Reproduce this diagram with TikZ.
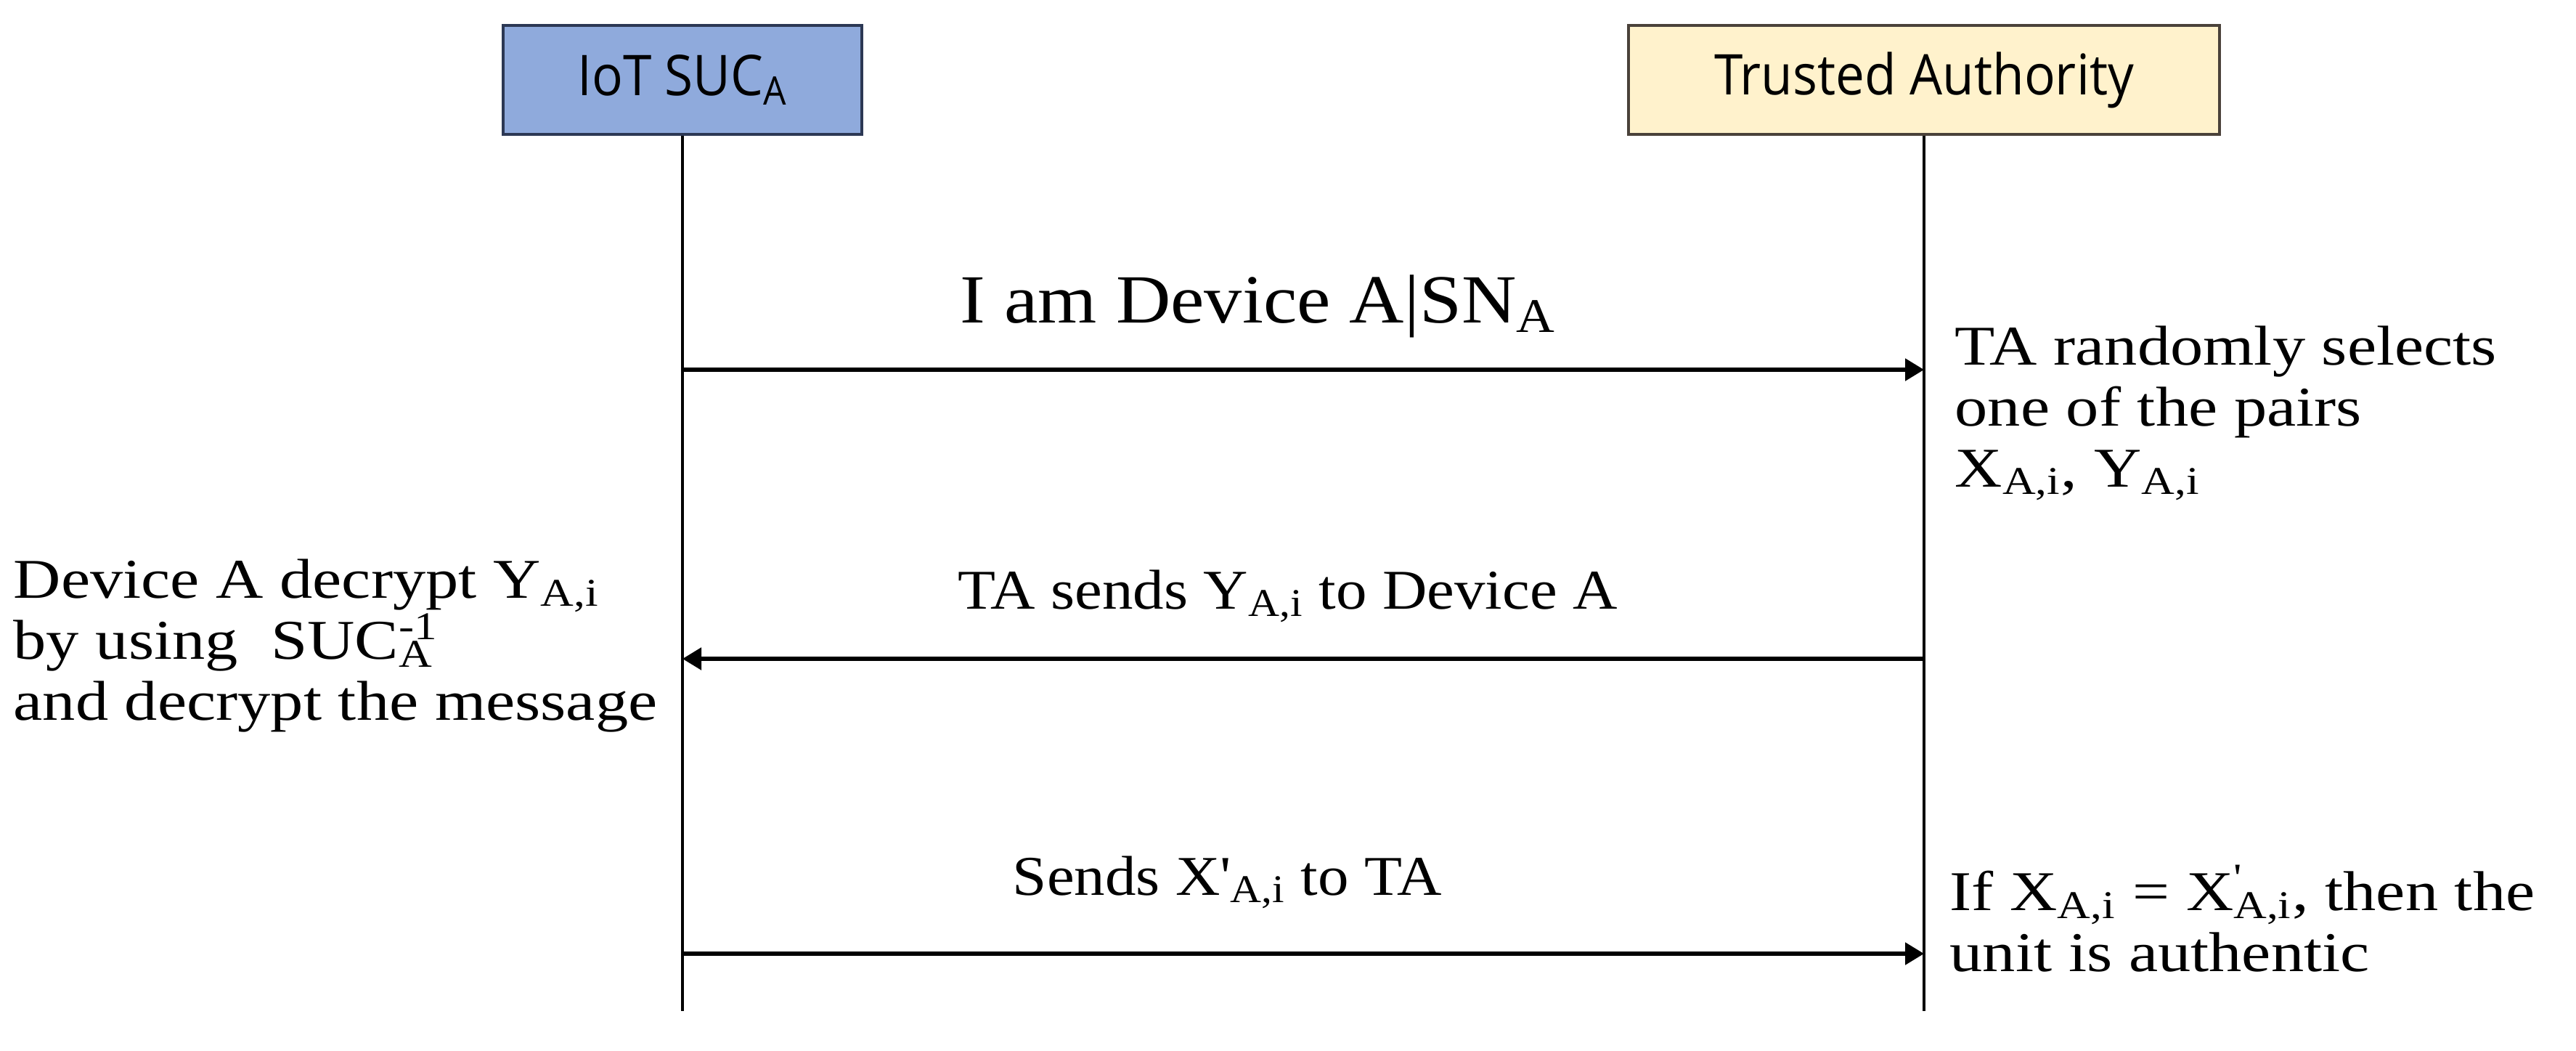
\documentclass[tikz,border=0pt]{standalone}
\usepackage{fontspec}
\setmainfont{Liberation Serif}[FakeStretch=1.1]
\newfontfamily\notefont{Liberation Serif}[FakeStretch=1.17]
\newfontfamily\boxfont{Open Sans}[FakeStretch=0.92]
\usetikzlibrary{arrows.meta, positioning}
\definecolor{devblue}{RGB}{143, 170, 220}
\definecolor{devedge}{RGB}{44, 56, 84}
\definecolor{tacream}{RGB}{255, 242, 204}
\definecolor{taedge}{RGB}{74, 66, 58}
\newcommand{\supsub}[2]{\rlap{\textsuperscript{#1}}\textsubscript{#2}}

\begin{document}
\begin{tikzpicture}[
  party/.style={draw, line width=1pt, minimum height=1.5cm, inner sep=0pt, font=\boxfont\fontsize{22}{26}\selectfont},
  lifeline/.style={line width=1.2pt},
  msg/.style={line width=1.5pt, -{Triangle[length=0.26cm, width=0.3cm]}},
  msgtext/.style={anchor=base west, inner sep=0pt, font=\fontsize{22}{29}\selectfont},
  note/.style={anchor=base west, inner sep=0pt, align=left, font=\notefont\fontsize{22}{23.8}\selectfont}
]
  \useasboundingbox (0,0) rectangle (35.48,-14.46);

  % Participants
  \node[party, fill=devblue, draw=devedge, minimum width=4.94cm] (iot) at (9.40,-1.10) {IoT SUC\textsubscript{A}};
  \node[party, fill=tacream, draw=taedge, minimum width=8.14cm] (ta) at (26.50,-1.10) {Trusted Authority};

  % Lifelines
  \coordinate (bottom) at (0,-13.92);
  \draw[lifeline] (iot.south) -- (iot.south |- bottom);
  \draw[lifeline] (ta.south) -- (ta.south |- bottom);

  % Messages
  \coordinate (m1) at (0,-5.09);
  \coordinate (m2) at (0,-9.07);
  \coordinate (m3) at (0,-13.13);
  \draw[msg] (iot |- m1) -- (ta |- m1);
  \draw[msg] (ta |- m2) -- (iot |- m2);
  \draw[msg] (iot |- m3) -- (ta |- m3);

  \node[msgtext, font=\fontsize{27}{32}\selectfont] (lab1) at (13.22,-4.44) {I am Device A|SN\textsubscript{A}};
  \node[msgtext] (lab2) at (13.19,-8.38) {TA sends Y\textsubscript{A,i} to Device A};
  \node[msgtext] (lab3) at (13.94,-12.32) {Sends X\textquotesingle\textsubscript{A,i} to TA};

  % Side notes (base = last line)
  \node[note] (select) at (26.92,-6.70) {TA randomly selects\\one of the pairs\\X\textsubscript{A,i}, Y\textsubscript{A,i}};
  \node[note] (decrypt) at (0.18,-9.91) {Device A decrypt Y\textsubscript{A,i}\\by using\ \ SUC\supsub{-1}{A}\\and decrypt the message};
  \node[note] (check) at (26.85,-13.37) {If X\textsubscript{A,i} = X\supsub{\textquotesingle}{A,i}, then the\\unit is authentic};
\end{tikzpicture}
\end{document}
